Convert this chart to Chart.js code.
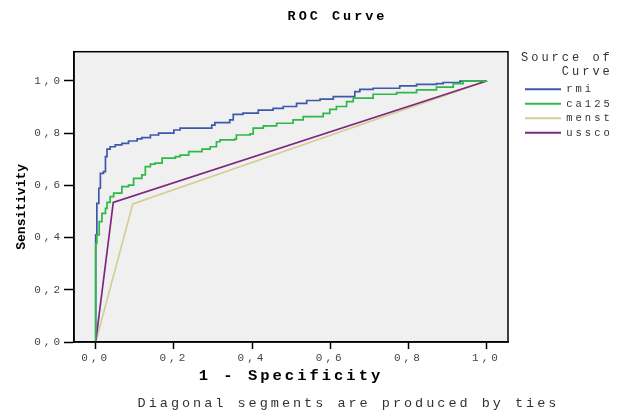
<!DOCTYPE html>
<html>
<head>
<meta charset="utf-8">
<script src="https://cdn.jsdelivr.net/npm/chart.js@4/dist/chart.umd.min.js"></script>
<style>
html,body{margin:0;padding:0;background:#fff;overflow:hidden;}
#wrap{width:613px;height:415px;}
canvas{display:block;}
</style>
</head>
<body>
<div id="wrap"><canvas id="c" width="613" height="415"></canvas></div>
<script>
// ---- texts ----
const chartTitle = 'ROC Curve';
const footnote = 'Diagonal segments are produced by ties';
const xAxisTitle = '1 - Specificity';
const yAxisTitle = 'Sensitivity';
const legendTitle = ['Source of the', '    Curve'];
const seriesNames = ['rmi', 'ca125', 'menst', 'ussco'];
const seriesColors = ['#3e58ac', '#2eb848', '#d3ce97', '#7c287d'];

// ---- ticks ----
const tickValues = [0, 0.2, 0.4, 0.6, 0.8, 1.0];
const tickLabels = ['0,0', '0,2', '0,4', '0,6', '0,8', '1,0'];

// ---- series (1 - specificity, sensitivity) ----
const rmiFpr = [0, 0, 0.003, 0.008, 0.012, 0.020, 0.025, 0.029, 0.037, 0.050, 0.067, 0.084, 0.106, 0.118, 0.140, 0.161, 0.200, 0.216, 0.292, 0.297, 0.305, 0.343, 0.352, 0.377, 0.416, 0.454, 0.480, 0.514, 0.540, 0.574, 0.608, 0.663, 0.676, 0.710, 0.778, 0.821, 0.872, 0.889, 0.932, 1.000];
const rmiTpr = [0, 0.410, 0.531, 0.589, 0.646, 0.653, 0.710, 0.739, 0.748, 0.755, 0.761, 0.770, 0.778, 0.783, 0.793, 0.800, 0.812, 0.819, 0.819, 0.831, 0.840, 0.851, 0.872, 0.877, 0.888, 0.895, 0.902, 0.914, 0.925, 0.930, 0.940, 0.959, 0.968, 0.972, 0.981, 0.987, 0.990, 0.994, 0.999, 1.000];

const ca125Fpr = [0, 0, 0.003, 0.009, 0.016, 0.025, 0.029, 0.037, 0.046, 0.067, 0.084, 0.097, 0.118, 0.127, 0.140, 0.152, 0.170, 0.204, 0.216, 0.238, 0.272, 0.293, 0.309, 0.318, 0.356, 0.360, 0.395, 0.403, 0.429, 0.463, 0.505, 0.531, 0.582, 0.599, 0.616, 0.642, 0.659, 0.710, 0.770, 0.821, 0.872, 0.915, 0.940, 1.000];
const ca125Tpr = [0, 0.378, 0.410, 0.461, 0.493, 0.512, 0.535, 0.557, 0.570, 0.595, 0.601, 0.627, 0.640, 0.672, 0.681, 0.685, 0.704, 0.710, 0.716, 0.729, 0.739, 0.748, 0.767, 0.774, 0.777, 0.793, 0.797, 0.819, 0.828, 0.838, 0.851, 0.863, 0.876, 0.891, 0.902, 0.921, 0.934, 0.949, 0.955, 0.966, 0.976, 0.990, 0.999, 1.000];

const menstFpr = [0, 0.095, 1.000];
const menstTpr = [0, 0.529, 1.000];

const usscoFpr = [0, 0.045, 1.000];
const usscoTpr = [0, 0.535, 1.000];

// ---- style / layout constants ----
const MONO = "'Liberation Mono', 'Courier New', monospace";
const SPACING = '3px';
const CANVAS_W = 613;
const PLOT_RIGHT = 508;
const LEGEND_SHIFT = 13;
const TITLE_CX = 337.5;
const FOOT_CX = 348.5;

function toPoints(xs, ys) { return xs.map((x, i) => ({x: x, y: ys[i]})); }

function makeSet(i, xs, ys, stepped, order) {
  return {
    label: seriesNames[i],
    data: toPoints(xs, ys),
    borderColor: seriesColors[i],
    backgroundColor: seriesColors[i],
    borderWidth: 1.7,
    pointRadius: 0,
    stepped: stepped,
    tension: 0,
    fill: false,
    order: order
  };
}

function wrapTitle(scale, dx, dy, spacing) {
  if (scale.$wrapped) return;
  const orig = scale.drawTitle;
  scale.drawTitle = function () {
    const c = this.ctx;
    c.save();
    c.translate(dx, dy);
    if (spacing !== null) c.letterSpacing = spacing;
    orig.call(this);
    c.restore();
  };
  scale.$wrapped = true;
}

const framePlugin = {
  id: 'framePlugin',
  beforeLayout(chart) {
    chart.ctx.letterSpacing = SPACING;
    const lg = chart.legend;
    if (lg && !lg.$fixedFit) {
      const fit = lg.fit;
      lg.fit = function () { fit.call(this); this.width = CANVAS_W - PLOT_RIGHT; };
      lg.$fixedFit = true;
    }
  },
  afterLayout(chart) {
    const lg = chart.legend;
    if (lg) { lg.left += LEGEND_SHIFT; lg.right += LEGEND_SHIFT; }
    const t = chart.titleBlock;
    if (t) { t.left = TITLE_CX - 300; t.right = TITLE_CX + 300; }
    const sub = chart.boxes.find(b => b !== t && b.options && b.options.text === footnote);
    if (sub) { sub.left = FOOT_CX - 300; sub.right = FOOT_CX + 300; }
    wrapTitle(chart.scales.y, 0, 10, '0px');
  },
  beforeDraw(chart) {
    const ctx = chart.ctx;
    const a = chart.chartArea;
    ctx.letterSpacing = SPACING;
    ctx.save();
    ctx.fillStyle = '#f0f0f0';
    ctx.fillRect(a.left, a.top, a.right - a.left, a.bottom - a.top);
    ctx.restore();
  },
  afterDatasetsDraw(chart) {
    const ctx = chart.ctx;
    const a = chart.chartArea;
    ctx.save();
    ctx.strokeStyle = '#000';
    ctx.lineWidth = 1.5;
    ctx.strokeRect(a.left, a.top, a.right - a.left, a.bottom - a.top);
    ctx.restore();
  }
};

const tickFmt = v => {
  const k = tickValues.findIndex(t => Math.abs(t - v) < 1e-9);
  return k >= 0 ? tickLabels[k] : '';
};
const setTicks = s => { s.ticks = tickValues.map(v => ({value: v})); };

const chart = new Chart(document.getElementById('c'), {
  type: 'line',
  data: {
    datasets: [
      makeSet(0, rmiFpr, rmiTpr, true, 2),
      makeSet(1, ca125Fpr, ca125Tpr, true, 1),
      makeSet(2, menstFpr, menstTpr, false, 4),
      makeSet(3, usscoFpr, usscoTpr, false, 3)
    ]
  },
  options: {
    responsive: false,
    animation: false,
    devicePixelRatio: 1,
    layout: {padding: 0},
    events: [],
    plugins: {
      tooltip: {enabled: false},
      title: {
        display: true, text: chartTitle, color: '#000',
        font: {family: MONO, size: 13.5, weight: 'bold'},
        padding: {top: 8, bottom: 27.5}
      },
      subtitle: {
        display: true, position: 'bottom', text: footnote, color: '#333',
        font: {family: MONO, size: 13.5, weight: 'normal'},
        padding: {top: 2, bottom: 3}
      },
      legend: {
        display: true, position: 'right', align: 'start', fullSize: false,
        title: {
          display: true, text: legendTitle, position: 'start', color: '#333',
          font: {family: MONO, size: 12, weight: 'normal'},
          padding: {top: 0, bottom: 14}
        },
        labels: {
          font: {family: MONO, size: 10.5},
          color: '#333',
          boxWidth: 36, boxHeight: 2, padding: 4,
          generateLabels(chart) {
            const items = Chart.defaults.plugins.legend.labels.generateLabels(chart);
            items.forEach(it => { it.lineWidth = 0; it.fillStyle = it.strokeStyle; });
            return items.sort((a, b) => a.datasetIndex - b.datasetIndex);
          }
        }
      }
    },
    scales: {
      x: {
        type: 'linear', position: 'bottom',
        min: -0.0555, max: 1.055,
        afterBuildTicks: setTicks,
        afterFit: s => { s.height = 51.8; },
        grid: {drawOnChartArea: false, drawTicks: true, tickLength: 7, tickColor: '#000', tickWidth: 1.5},
        border: {display: true, color: '#000', width: 1.5},
        ticks: {callback: tickFmt, autoSkip: false, maxRotation: 0, padding: 2, color: '#444', font: {family: MONO, size: 11}},
        title: {display: true, text: xAxisTitle, color: '#000', font: {family: MONO, size: 15.5, weight: 'bold'}, padding: {top: 0, bottom: 8.5}}
      },
      y: {
        type: 'linear', position: 'left',
        min: 0, max: 1.112,
        afterBuildTicks: setTicks,
        afterFit: s => { s.width = 74; },
        grid: {drawOnChartArea: false, drawTicks: true, tickLength: 10, tickColor: '#000', tickWidth: 1.5},
        border: {display: true, color: '#000', width: 1.5},
        ticks: {callback: tickFmt, autoSkip: false, padding: 1, color: '#444', font: {family: MONO, size: 11}},
        title: {display: true, text: yAxisTitle, color: '#000', font: {family: MONO, size: 13, weight: 'bold'}, padding: {top: 14, bottom: 0}}
      }
    }
  },
  plugins: [framePlugin]
});
</script>
</body>
</html>
